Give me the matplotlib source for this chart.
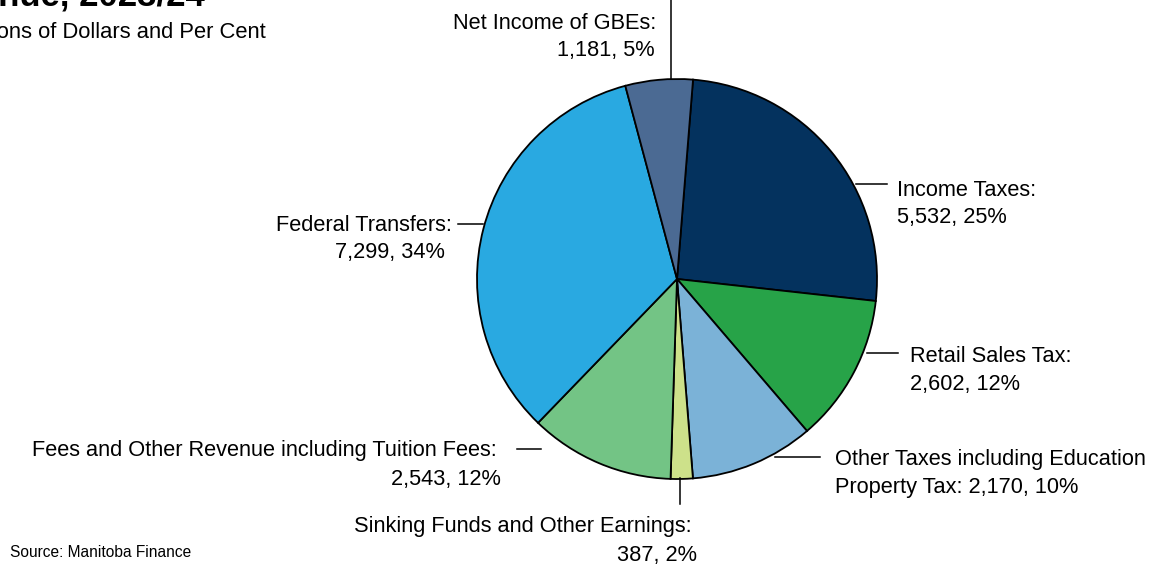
import matplotlib
matplotlib.use("Agg")
import matplotlib.pyplot as plt

plt.rcParams['font.family'] = ['Liberation Sans', 'DejaVu Sans']

categories = ["Income Taxes", "Retail Sales Tax",
              "Other Taxes including Education Property Tax",
              "Sinking Funds and Other Earnings",
              "Fees and Other Revenue including Tuition Fees",
              "Federal Transfers", "Net Income of GBEs"]
values = [5532, 2602, 2170, 387, 2543, 7299, 1181]
percents = [25, 12, 10, 2, 12, 34, 5]
colors = ["#04325E", "#27A348", "#7BB2D7", "#CDE18A", "#73C485", "#29A9E1", "#4B6A93"]

W, H = 1157, 569
fig = plt.figure(figsize=(W / 100, H / 100), dpi=100)
ax = fig.add_axes([0, 0, 1, 1])
ax.set_xlim(0, W)
ax.set_ylim(0, H)
ax.set_aspect('equal')
ax.axis('off')

def Y(y):
    return H - y

cx, cy, r = 677, 279, 200
ax.pie(values, colors=colors, startangle=85.4, counterclock=False,
       center=(cx, Y(cy)), radius=r,
       wedgeprops=dict(edgecolor='black', linewidth=1.3))
ax.set_xlim(0, W)
ax.set_ylim(0, H)

def fmt(v, p):
    return f"{v:,}, {p}%"

fs = 15.7
lc = dict(color='black', lw=1.1)

def label(line1, line2, x1, y1, x2, y2, ha):
    ax.text(x1, Y(y1), line1, ha=ha, va='baseline', fontsize=fs)
    ax.text(x2, Y(y2), line2, ha=ha, va='baseline', fontsize=fs)

# Income Taxes
ax.plot([856, 887], [Y(184), Y(184)], **lc)
label(categories[0] + ":", fmt(values[0], percents[0]), 897, 196, 897, 223, 'left')
# Retail Sales Tax
ax.plot([867, 898], [Y(353), Y(353)], **lc)
label(categories[1] + ":", fmt(values[1], percents[1]), 910, 362, 910, 390, 'left')
# Other Taxes
ax.plot([775, 820], [Y(457), Y(457)], **lc)
label("Other Taxes including Education", "Property Tax: " + fmt(values[2], percents[2]),
      835, 465, 835, 493, 'left')
# Sinking Funds
ax.plot([680, 680], [Y(478), Y(504)], **lc)
label(categories[3] + ":", fmt(values[3], percents[3]), 692, 532, 697, 561, 'right')
# Fees
ax.plot([517, 541], [Y(449), Y(449)], **lc)
label(categories[4] + ":", fmt(values[4], percents[4]), 497, 456, 501, 485, 'right')
# Federal Transfers
ax.plot([458, 483], [Y(224), Y(224)], **lc)
label(categories[5] + ":", fmt(values[5], percents[5]), 452, 231, 445, 258, 'right')
# Net Income of GBEs
ax.plot([671, 671], [Y(0), Y(79)], **lc)
label(categories[6] + ":", fmt(values[6], percents[6]), 656, 29, 655, 56, 'right')

# Title (clipped at top-left as in reference)
fig.text(205 / W, 1 - 6 / H, "Summary Budget Revenue, 2023/24", ha='right', va='baseline',
         fontsize=25, fontweight='bold')
fig.text(266 / W, 1 - 38 / H, "Millions of Dollars and Per Cent", ha='right', va='baseline',
         fontsize=15.8)
fig.text(10 / W, 1 - 557 / H, "Source: Manitoba Finance", ha='left', va='baseline', fontsize=11.2)

fig.savefig("out.png", dpi=100)
